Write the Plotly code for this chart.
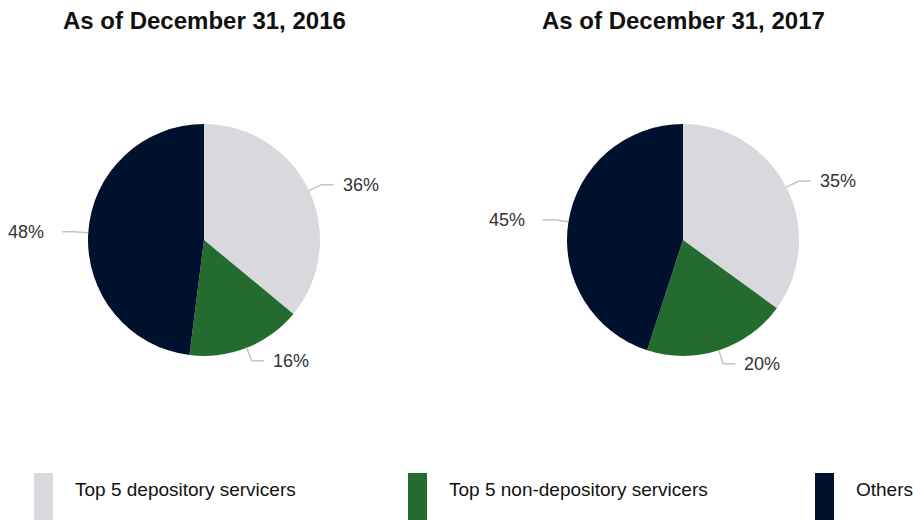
import math
import plotly.graph_objects as go

# Servicer market share, two snapshots
categories = ["Top 5 depository servicers", "Top 5 non-depository servicers", "Others"]
years = ["As of December 31, 2016", "As of December 31, 2017"]
share_2016 = [36, 16, 48]
share_2017 = [35, 20, 45]

colors = ["#d8d8dd", "#236b2e", "#00112e"]
W, H = 913, 520
FONT = "Liberation Sans, Arial, sans-serif"

# pie placement in pixels: centre x, centre y, radius
pies = [
    {"title": years[0], "values": share_2016, "cx": 204, "cy": 240, "r": 116},
    {"title": years[1], "values": share_2017, "cx": 683, "cy": 240, "r": 116},
]


def px(x):
    return x / W


def py(y):
    return 1 - y / H


fig = go.Figure()
shapes = []
annotations = []

for p in pies:
    cx, cy, r = p["cx"], p["cy"], p["r"]
    fig.add_trace(go.Pie(
        labels=categories,
        values=p["values"],
        marker=dict(colors=colors, line=dict(width=0)),
        sort=False,
        direction="clockwise",
        rotation=0,
        textinfo="none",
        hoverinfo="label+percent",
        domain=dict(x=[px(cx - r), px(cx + r)], y=[py(cy + r), py(cy - r)]),
        showlegend=False,
    ))
    # title above each pie
    annotations.append(dict(
        text=f"<b>{p['title']}</b>", x=px(cx), y=py(21), xref="paper", yref="paper",
        showarrow=False, xanchor="center", yanchor="middle",
        font=dict(family=FONT, size=24, color="#111111"),
    ))
    # outside percentage labels with elbow leader lines
    total = sum(p["values"])
    cum = 0
    for v in p["values"]:
        mid = (cum + v / 2) / total * 2 * math.pi
        cum += v
        sx, sy = math.sin(mid), -math.cos(mid)
        x0, y0 = cx + r * sx, cy + r * sy
        x1, y1 = cx + (r + 14) * sx, cy + (r + 14) * sy
        side = 1 if sx >= 0 else -1
        x2 = x1 + side * 12
        path = f"M {px(x0)},{py(y0)} L {px(x1)},{py(y1)} L {px(x2)},{py(y1)}"
        shapes.append(dict(type="path", path=path, xref="paper", yref="paper",
                           line=dict(color="#c4c4c4", width=1.5)))
        gap = 7 if side > 0 else 16
        annotations.append(dict(
            text=f"{v}%", x=px(x2 + side * gap), y=py(y1), xref="paper", yref="paper",
            showarrow=False, xanchor="left" if side > 0 else "right", yanchor="middle",
            font=dict(family=FONT, size=18, color="#333333"),
        ))

# legend: tall colour bars with labels
legend_x = [34, 408, 815]
for lx, name, col in zip(legend_x, categories, colors):
    shapes.append(dict(type="rect", xref="paper", yref="paper",
                       x0=px(lx), x1=px(lx + 19), y0=py(520), y1=py(473),
                       fillcolor=col, line=dict(width=0)))
    annotations.append(dict(
        text=name, x=px(lx + 39), y=py(489), xref="paper", yref="paper",
        showarrow=False, xanchor="left", yanchor="middle",
        font=dict(family=FONT, size=19, color="#111111"),
    ))

fig.update_layout(
    width=W, height=H,
    margin=dict(l=0, r=0, t=0, b=0),
    paper_bgcolor="white", plot_bgcolor="white",
    shapes=shapes, annotations=annotations,
)

fig.write_html("out.html")
